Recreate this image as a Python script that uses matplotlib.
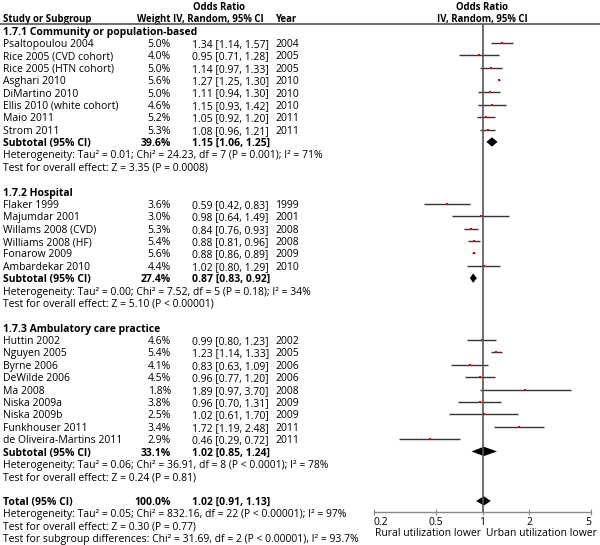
import numpy as np
import matplotlib.pyplot as plt
from matplotlib.transforms import blended_transform_factory
from matplotlib.lines import Line2D

plt.rcParams['font.family'] = ['Open Sans', 'DejaVu Sans']

# datos del forest plot
g1_names = ['Psaltopoulou 2004', 'Rice 2005 (CVD cohort)', 'Rice 2005 (HTN cohort)', 'Asghari 2010',
            'DiMartino 2010', 'Ellis 2010 (white cohort)', 'Maio 2011', 'Strom 2011']
g1_weight = [5.0, 4.0, 5.0, 5.6, 5.0, 4.6, 5.2, 5.3]
g1_or = [1.34, 0.95, 1.14, 1.27, 1.11, 1.15, 1.05, 1.08]
g1_lo = [1.14, 0.71, 0.97, 1.25, 0.94, 0.93, 0.92, 0.96]
g1_hi = [1.57, 1.28, 1.33, 1.30, 1.30, 1.42, 1.20, 1.21]
g1_year = [2004, 2005, 2005, 2010, 2010, 2010, 2011, 2011]

g2_names = ['Flaker 1999', 'Majumdar 2001', 'Willams 2008 (CVD)', 'Williams 2008 (HF)',
            'Fonarow 2009', 'Ambardekar 2010']
g2_weight = [3.6, 3.0, 5.3, 5.4, 5.6, 4.4]
g2_or = [0.59, 0.98, 0.84, 0.88, 0.88, 1.02]
g2_lo = [0.42, 0.64, 0.76, 0.81, 0.86, 0.80]
g2_hi = [0.83, 1.49, 0.93, 0.96, 0.89, 1.29]
g2_year = [1999, 2001, 2008, 2008, 2009, 2010]

g3_names = ['Huttin 2002', 'Nguyen 2005', 'Byrne 2006', 'DeWilde 2006', 'Ma 2008', 'Niska 2009a',
            'Niska 2009b', 'Funkhouser 2011', 'de Oliveira-Martins 2011']
g3_weight = [4.6, 5.4, 4.1, 4.5, 1.8, 3.8, 2.5, 3.4, 2.9]
g3_or = [0.99, 1.23, 0.83, 0.96, 1.89, 0.96, 1.02, 1.72, 0.46]
g3_lo = [0.80, 1.14, 0.63, 0.77, 0.97, 0.70, 0.61, 1.19, 0.29]
g3_hi = [1.23, 1.33, 1.09, 1.20, 3.70, 1.31, 1.70, 2.48, 0.72]
g3_year = [2002, 2005, 2006, 2006, 2008, 2009, 2009, 2011, 2011]

group_titles = ['1.7.1 Community or population-based', '1.7.2 Hospital', '1.7.3 Ambulatory care practice']
sub_weight = [39.6, 27.4, 33.1]
sub_or = [1.15, 0.87, 1.02]
sub_lo = [1.06, 0.83, 0.85]
sub_hi = [1.25, 0.92, 1.24]
sub_het = ['Heterogeneity: Tau² = 0.01; Chi² = 24.23, df = 7 (P = 0.001); I² = 71%',
           'Heterogeneity: Tau² = 0.00; Chi² = 7.52, df = 5 (P = 0.18); I² = 34%',
           'Heterogeneity: Tau² = 0.06; Chi² = 36.91, df = 8 (P < 0.0001); I² = 78%']
sub_test = ['Test for overall effect: Z = 3.35 (P = 0.0008)',
            'Test for overall effect: Z = 5.10 (P < 0.00001)',
            'Test for overall effect: Z = 0.24 (P = 0.81)']

tot_weight = 100.0
tot_or, tot_lo, tot_hi = 1.02, 0.91, 1.13
tot_lines = ['Heterogeneity: Tau² = 0.05; Chi² = 832.16, df = 22 (P < 0.00001); I² = 97%',
             'Test for overall effect: Z = 0.30 (P = 0.77)',
             'Test for subgroup differences: Chi² = 31.69, df = 2 (P < 0.00001), I² = 93.7%']

xticks = [0.2, 0.5, 1, 2, 5]
xtick_labels = ['0.2', '0.5', '1', '2', '5']

groups = [
    (g1_names, g1_weight, g1_or, g1_lo, g1_hi, g1_year),
    (g2_names, g2_weight, g2_or, g2_lo, g2_hi, g2_year),
    (g3_names, g3_weight, g3_or, g3_lo, g3_hi, g3_year),
]

W, H = 600, 545
fs = 7.5      # texto normal
fs_h = 6.9    # encabezados de columna
dy = 0.13     # desplazamiento vertical del texto respecto a la fila
fig = plt.figure(figsize=(W / 100, H / 100), dpi=100)

# eje del forest: filas en unidades de renglón (0 = primer subgrupo)
y0_px, step = 30.5, 12.38
ax = fig.add_axes([374 / W, 0, 217 / W, 1])
ax.set_xscale('log')
ax.set_xlim(0.2, 5)
ax.set_ylim((H - y0_px) / step, -y0_px / step)
ax.patch.set_visible(False)
for s in ['top', 'left', 'right']:
    ax.spines[s].set_visible(False)
ax.set_yticks([])

tr = blended_transform_factory(fig.transFigure, ax.transData)

def px(x):
    return x / W

def txt(x, k, s, size=fs, bold=False, ha='left'):
    ax.text(px(x), k + dy, s, transform=tr, fontsize=size,
            fontweight='bold' if bold else 'normal', va='center', ha=ha)

def row_text(k, name, weight, ci, year, bold=False):
    txt(3, k, name, bold=bold)
    txt(171, k, weight, bold=bold, ha='right')
    txt(192, k, ci, bold=bold)
    if year:
        txt(275, k, year)

def diamond(k, est, lo, hi, h=0.38):
    ax.fill([lo, est, hi, est], [k, k - h, k, k + h], color='black', lw=0)

# encabezados
txt(219, -2, 'Odds Ratio', size=fs_h, bold=True, ha='center')
txt(482, -2, 'Odds Ratio', size=fs_h, bold=True, ha='center')
txt(3, -1, 'Study or Subgroup', size=fs_h, bold=True)
txt(171, -1, 'Weight', size=fs_h, bold=True, ha='right')
txt(218, -1, 'IV, Random, 95% CI', size=fs_h, bold=True, ha='center')
txt(275, -1, 'Year', size=fs_h, bold=True)
txt(482, -1, 'IV, Random, 95% CI', size=fs_h, bold=True, ha='center')
fig.add_artist(Line2D([0, 1], [1 - 24 / H, 1 - 24 / H], color='#555555', lw=1.2))

k = 0
for gi, (names, wts, ors, los, his, yrs) in enumerate(groups):
    txt(3, k, group_titles[gi], bold=True)
    k += 1
    for n, w, o, lo, hi, yr in zip(names, wts, ors, los, his, yrs):
        row_text(k, n, f'{w:.1f}%', f'{o:.2f} [{lo:.2f}, {hi:.2f}]', str(yr))
        ax.plot([lo, hi], [k, k], color='#333333', lw=1.0, solid_capstyle='butt')
        ax.plot(o, k, 's', color='#e00000', ms=1.7, mew=0)
        k += 1
    row_text(k, 'Subtotal (95% CI)', f'{sub_weight[gi]:.1f}%',
             f'{sub_or[gi]:.2f} [{sub_lo[gi]:.2f}, {sub_hi[gi]:.2f}]', None, bold=True)
    diamond(k, sub_or[gi], sub_lo[gi], sub_hi[gi])
    k += 1
    txt(3, k, sub_het[gi])
    k += 1
    txt(3, k, sub_test[gi])
    k += 2

row_text(k, 'Total (95% CI)', f'{tot_weight:.1f}%', f'{tot_or:.2f} [{tot_lo:.2f}, {tot_hi:.2f}]', None, bold=True)
diamond(k, tot_or, tot_lo, tot_hi)
k_axis = k + 0.87
for line in tot_lines:
    k += 1
    txt(3, k, line)

# línea de no efecto y eje inferior
ax.vlines(1, -0.56, k_axis, color='#555555', lw=1.2)
ax.spines['bottom'].set_position(('data', k_axis))
ax.spines['bottom'].set_color('#888888')
ax.spines['bottom'].set_linewidth(1.0)
ax.set_xticks(xticks)
ax.set_xticklabels(xtick_labels)
ax.minorticks_off()
ax.tick_params(axis='x', direction='inout', length=4, width=0.8, color='#888888',
               labelsize=fs, pad=2)
lbls = ax.get_xticklabels()
lbls[0].set_ha('left')
lbls[-1].set_ha('right')
txt(481, k_axis + 1.6, 'Rural utilization lower', ha='right')
txt(486, k_axis + 1.6, 'Urban utilization lower')

fig.savefig('out.png', dpi=100)
